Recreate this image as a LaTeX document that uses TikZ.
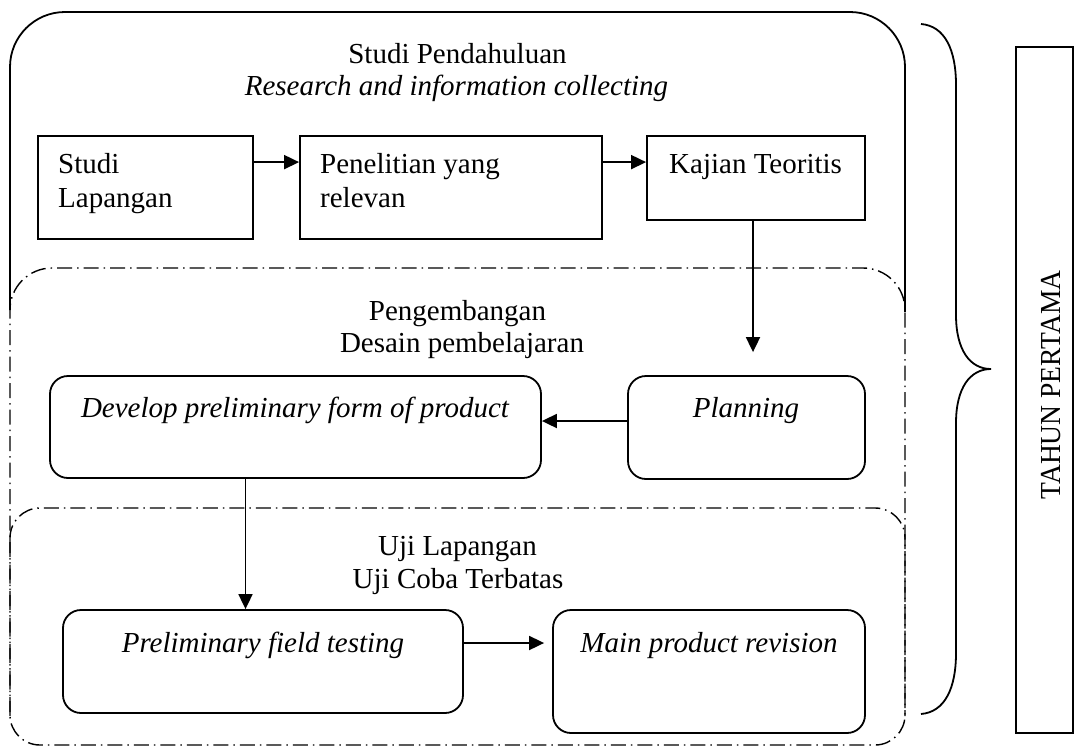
\documentclass[tikz,border=0pt]{standalone}
\usepackage{fontspec}
\setmainfont{Liberation Serif}
\usetikzlibrary{arrows.meta}
\tikzset{
  lbl/.style={inner sep=0pt, font=\fontsize{29}{34}\selectfont},
  ilbl/.style={lbl, font=\fontsize{29}{34}\selectfont\itshape},
  sqbox/.style={draw, line width=1.8pt, inner sep=0pt, minimum width=#1},
  rbox/.style={draw, line width=1.8pt, rounded corners=18pt, inner sep=0pt, minimum width=#1},
  solidframe/.style={line width=1.8pt, rounded corners=55pt},
  dashframe/.style={line width=1.4pt, dash pattern=on 15pt off 5pt on 1.5pt off 5pt},
  arr/.style={line width=1.8pt, -{Triangle[length=15pt,width=14pt]}},
}
\begin{document}
\begin{tikzpicture}[x=1pt,y=-1pt]
\useasboundingbox (0,0) rectangle (1075,747);

% frames
\draw[solidframe] (10,310) -- (10,12) -- (905,12) -- (905,312);
\draw[dashframe, rounded corners=42pt] (10,716) -- (10,268) -- (905,268) -- (905,716);
\draw[dashframe, rounded corners=30pt] (10,508) rectangle (905,745);

% headings
\node[lbl, anchor=base] (h1a) at (457.5,63) {Studi Pendahuluan};
\node[ilbl, anchor=base] (h1b) at (456.5,95) {Research and information collecting};
\node[lbl, anchor=base] (h2a) at (457.5,320) {Pengembangan};
\node[lbl, anchor=base] (h2b) at (462,352) {Desain pembelajaran};
\node[lbl, anchor=base] (h3a) at (457.5,555) {Uji Lapangan};
\node[lbl, anchor=base] (h3b) at (458,588) {Uji Coba Terbatas};

% top row boxes
\node[sqbox=215pt, minimum height=103pt] (sl) at (145.5,187.5) {};
\node[sqbox=302pt, minimum height=103pt] (pr) at (451,187.5) {};
\node[sqbox=218pt, minimum height=84pt] (kt) at (756,178) {};
\node[lbl, anchor=base west] (slt1) at (58,173) {Studi};
\node[lbl, anchor=base west] (slt2) at (58,207) {Lapangan};
\node[lbl, anchor=base west] (prt1) at (320,173) {Penelitian yang};
\node[lbl, anchor=base west] (prt2) at (320,207) {relevan};
\node[lbl, anchor=base west] (ktt) at (669,173) {Kajian Teoritis};

% middle row
\node[rbox=237pt, minimum height=103pt] (pl) at (746.5,427.5) {};
\node[rbox=491pt, minimum height=102pt] (dv) at (295.5,427) {};
\node[ilbl, anchor=base] (plt) at (746,417) {Planning};
\node[ilbl, anchor=base] (dvt) at (295,417) {Develop preliminary form of product};

% bottom row
\node[rbox=400pt, minimum height=103pt] (pf) at (263,661.5) {};
\node[rbox=312pt, minimum height=123pt] (mp) at (709,671.5) {};
\node[ilbl, anchor=base] (pft) at (263,652) {Preliminary field testing};
\node[ilbl, anchor=base] (mpt) at (709,652) {Main product revision};

% arrows
\draw[arr] ([yshift=-27pt]sl.north east) -- ([yshift=-27pt]pr.north west);
\draw[arr] ([yshift=-27pt]pr.north east) -- ([yshift=-27pt]pr.north east -| kt.west);
\draw[arr, shorten >=23pt] ([xshift=-3pt]kt.south) -- ([xshift=-3pt]kt.south |- pl.north);
\draw[arr] ([yshift=6.5pt]pl.west) -- ([yshift=6.5pt]pl.west -| dv.east);
\draw[arr] ([xshift=-50pt]dv.south) -- ([xshift=-50pt]dv.south |- pf.north);
\draw[arr, shorten >=8pt] ([yshift=18.5pt]pf.east) -- ([yshift=18.5pt]pf.east -| mp.west);

% brace
\draw[line width=1.8pt] (921,24) .. controls (945,26) and (956,50) .. (956,85)
  -- (956,315) .. controls (956,350) and (970,369) .. (991,369)
  .. controls (970,369) and (956,388) .. (956,423)
  -- (956,653) .. controls (956,688) and (945,712) .. (921,714);

% year box
\node[draw, line width=1.8pt, minimum width=57pt, minimum height=686pt, inner sep=0pt] (yb) at (1044.5,390) {};
\node[lbl, rotate=90, anchor=base] (ybt) at (1060,385) {\scalebox{0.95}[1]{TAHUN PERTAMA}};
\end{tikzpicture}
\end{document}
